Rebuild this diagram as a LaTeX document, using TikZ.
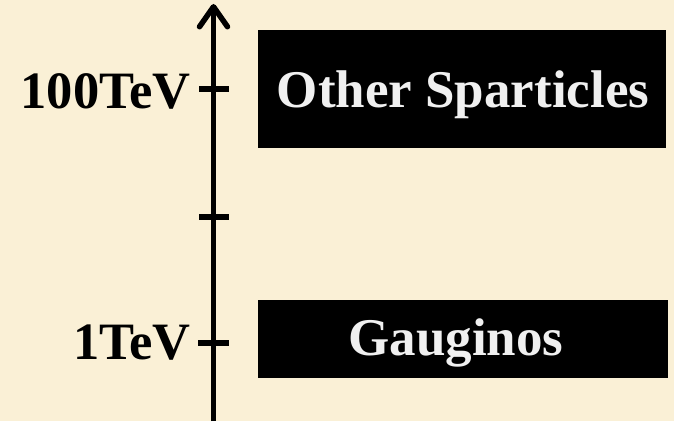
\documentclass[tikz,border=0pt]{standalone}
\usepackage{fontspec}
\setmainfont{Liberation Serif}
\usetikzlibrary{arrows.meta}
\definecolor{bg}{RGB}{250,240,214}
\definecolor{boxtext}{RGB}{240,240,240}
\begin{document}
\begin{tikzpicture}[x=1pt,y=1pt,
  axisline/.style={line width=5.5pt,black},
  ticksty/.style={line width=5.5pt,black},
  lab/.style={font=\fontsize{52.5}{52.5}\selectfont\bfseries,text=black,inner sep=0pt},
  blackbox/.style={fill=black,draw=none},
  boxlab/.style={font=\fontsize{53}{53}\selectfont\bfseries,text=boxtext,inner sep=0pt}]
\fill[bg] (0,0) rectangle (674,421);
\useasboundingbox (0,0) rectangle (674,421);
% axis
\coordinate (axb) at (213.5,0);
\coordinate (axt) at (213.5,417);
\draw[axisline,-{Straight Barb[length=20pt,width=28pt,round]}] (axb) -- (axt);
% ticks
\coordinate (t1a) at (199,332); \coordinate (t1b) at (229,332);
\coordinate (t2a) at (199,204); \coordinate (t2b) at (229,204);
\coordinate (t3a) at (198,78); \coordinate (t3b) at (229,78);
\draw[ticksty] (t1a) -- (t1b);
\draw[ticksty] (t2a) -- (t2b);
\draw[ticksty] (t3a) -- (t3b);
% labels
\node[lab,anchor=base east] (l100) at (191,312) {100TeV};
\node[lab,anchor=base east] (l1) at (191,62) {1TeV};
% boxes
\fill[blackbox] (258,273) rectangle (666,391);
\fill[blackbox] (258,43) rectangle (668,121);
\node[boxlab,anchor=base] (other) at (463,313) {Other Sparticles};
\node[boxlab,anchor=base] (gaug) at (456,66) {Gauginos};
\end{tikzpicture}
\end{document}
